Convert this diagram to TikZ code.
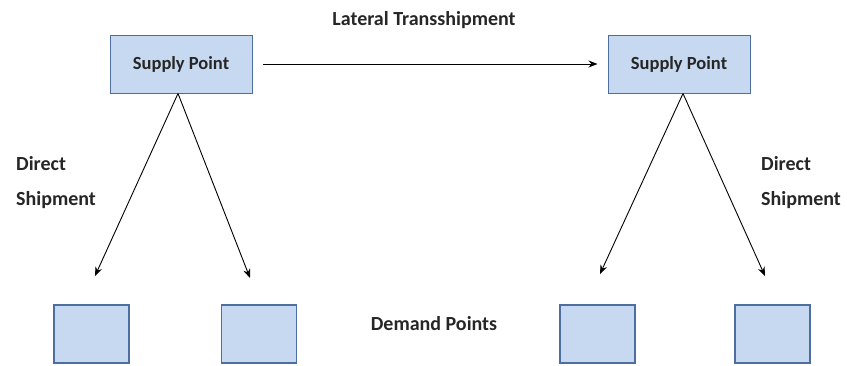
\documentclass[tikz,border=0pt]{standalone}
\usepackage{fontspec}
\setmainfont{Carlito}
\usetikzlibrary{arrows.meta}
\definecolor{boxfill}{RGB}{198,217,240}
\definecolor{boxline}{RGB}{79,110,160}
\begin{document}
\begin{tikzpicture}[x=1pt,y=-1pt,
  supply/.style={draw=boxline,fill=boxfill,line width=1pt,minimum width=142pt,minimum height=58pt,inner sep=0pt,font=\bfseries\fontsize{18.5}{20}\selectfont,text=black!85},
  demand/.style={draw=boxline,fill=boxfill,line width=1.3pt,minimum width=75pt,minimum height=58pt,inner sep=0pt},
  lbl/.style={font=\bfseries\fontsize{20}{35}\selectfont,text=black!85,align=left,inner sep=0pt},
  arr/.style={-{Stealth[length=9pt,width=7pt]},line width=0.9pt}]
\useasboundingbox (0,0) rectangle (847,365);
\node[supply] (s1) at (181,64) {Supply Point};
\node[supply] (s2) at (679,64) {Supply Point};
\node[demand] (d1) at (91.5,334) {};
\node[demand] (d2) at (259,334) {};
\node[demand] (d3) at (597.5,334) {};
\node[demand] (d4) at (772.5,334) {};
\coordinate (t1) at (95,276);
\coordinate (t2) at (250,278);
\coordinate (t3) at (600,274);
\coordinate (t4) at (765,276);
\draw[arr] ([xshift=10pt]s1.east) -- ([xshift=-10pt]s2.west);
\draw[arr] (s1.south -| 178,0) -- (t1);
\draw[arr] (s1.south -| 178,0) -- (t2);
\draw[arr] (s2.south -| 683,0) -- (t3);
\draw[arr] (s2.south -| 683,0) -- (t4);
\node[lbl] (lt) at (424,20) {Lateral Transshipment};
\node[lbl] (dp) at (434,324) {Demand Points};
\node[lbl,anchor=west] (ds1) at (16,183) {Direct\\Shipment};
\node[lbl,anchor=west] (ds2) at (761,183) {Direct\\Shipment};
\end{tikzpicture}
\end{document}
